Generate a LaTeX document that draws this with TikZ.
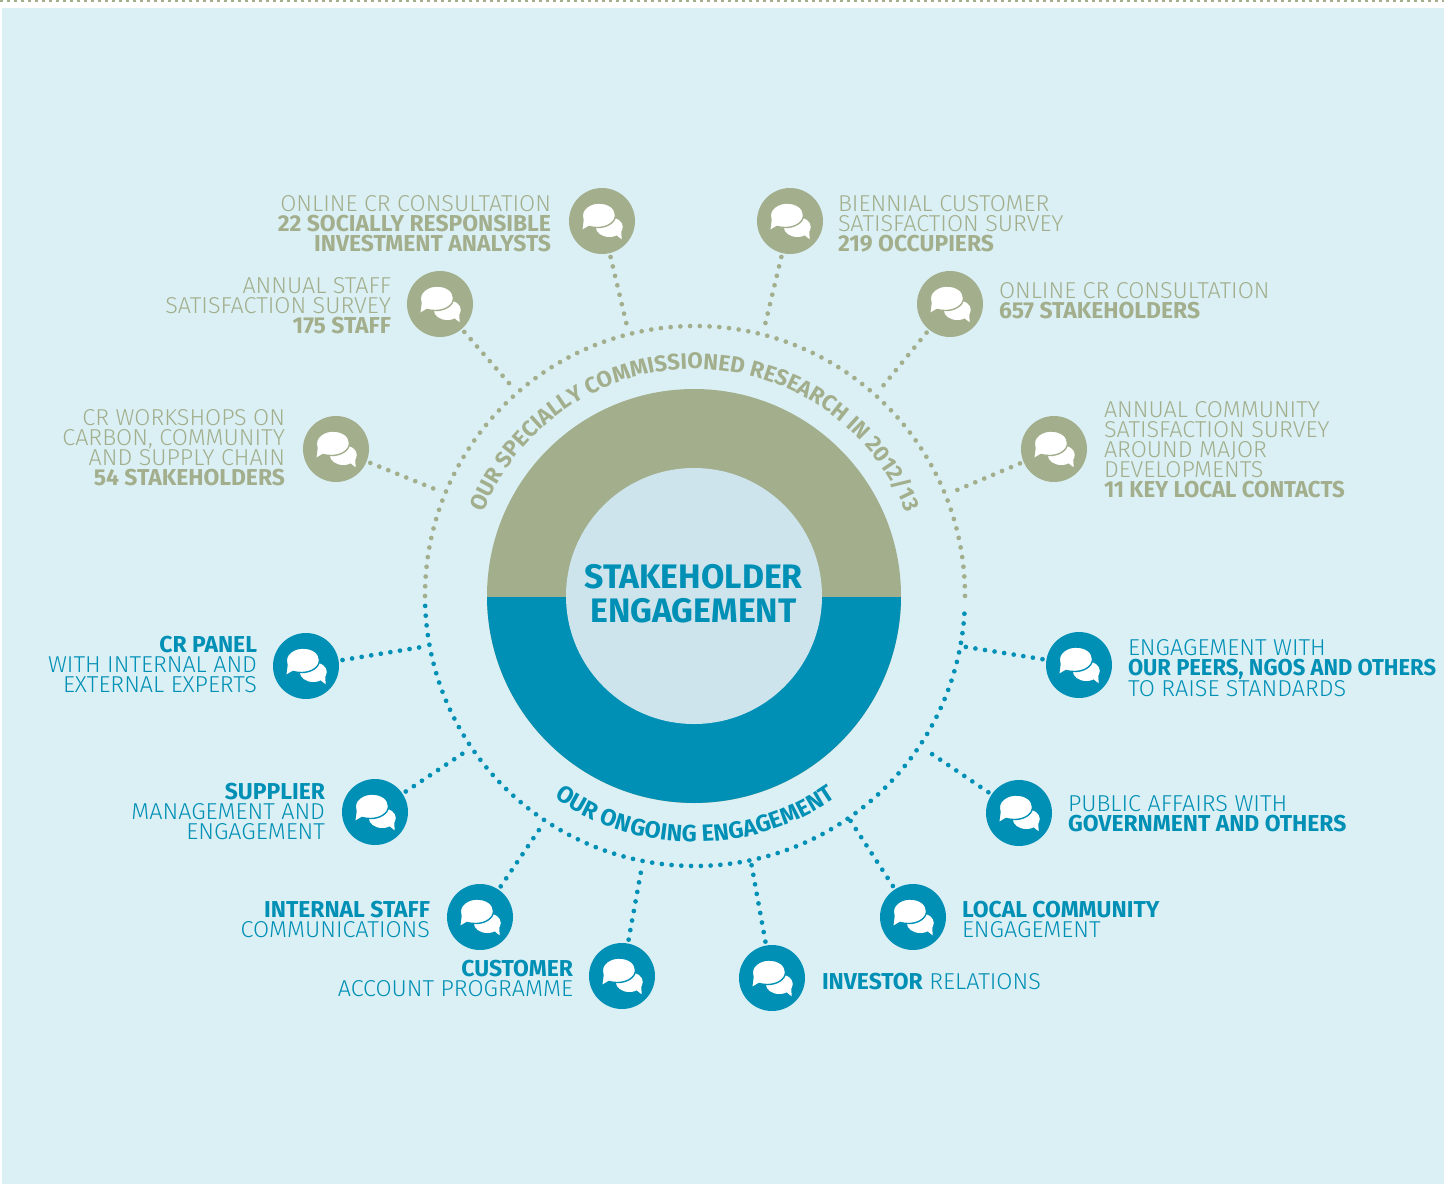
\documentclass[tikz,border=0pt]{standalone}
\usepackage{fontspec}
\setmainfont{Fira Sans}[UprightFont=* Light,BoldFont=* Bold,UprightFeatures={FakeStretch=1.015},BoldFeatures={FakeStretch=0.995}]
\usetikzlibrary{decorations.text}
\definecolor{olive}{HTML}{A2AE8C}
\definecolor{teal}{HTML}{008FB5}
\definecolor{bgc}{HTML}{DBF0F5}
\definecolor{core}{HTML}{CDE4EC}
\tikzset{
 x=1pt,y=-1pt,
 iconb/.style={circle,minimum size=66pt,inner sep=0pt,outer sep=0pt,fill=#1},
 lnk/.style={draw=#1,line width=4.7pt,line cap=round,dash pattern=on 0pt off 9.7pt,shorten <=4pt},
 ringdots/.style 2 args={draw=#1,line width=4.7pt,line cap=round,dash pattern=on 0pt off #2pt},
 lab/.style={inner sep=0pt,outer sep=0pt,font=\fontsize{23}{20}\selectfont,text=#1},
 labr/.style={lab=#1,anchor=north east,align=right},
 labl/.style={lab=#1,anchor=north west,align=left},
 bubble/.pic={
  \fill[white] (7.3,6) ellipse [x radius=13.5,y radius=10];
  \fill[white] (13,13) -- (19.7,18.3) -- (19,7) -- cycle;
  \filldraw[fill=white,draw=#1,line width=1.4pt] (-19,-1) .. controls (-23,-13) and (-10,-18) .. (-3.7,-18) .. controls (8,-18) and (13.5,-12) .. (13.5,-6) .. controls (13.5,2) and (4,6.5) .. (-4,6.5) .. controls (-8,6.5) and (-11,6) .. (-13,5.5) -- (-20.5,10) -- cycle;
 }
}
\newcommand{\icn}[4]{% name, x, y, color
 \node[iconb=#4] (#1) at (#2,#3) {};
 \pic at (#1) {bubble=#4};
}
\begin{document}
\begin{tikzpicture}
\useasboundingbox (0,0) rectangle (1444,1184);
\fill[white] (0,0) rectangle (1444,1184);
\fill[bgc] (2,8) rectangle (1444,1184);
\coordinate (tl) at (0,1); \coordinate (tr) at (1444,1);
\draw[olive,line width=2.5pt,dash pattern=on 2.5pt off 4.5pt] (tl) -- (tr);

% dotted ring and rosette
\begin{scope}[shift={(695,596)},y=1pt]
 \draw[ringdots={olive}{9.75}] (180:270) arc[start angle=180,end angle=0,radius=270];
 \draw[ringdots={teal}{9.77}] (182.1:270) arc[start angle=182.1,end angle=358.3,radius=270];
 \fill[olive] (-1,0) circle[radius=207];
 \fill[teal] (-207.99,-1) arc[start angle=180.3,end angle=359.7,radius=207] -- cycle;
 \fill[core] (-1,0) circle[radius=128];
 \path[decorate,decoration={text along path,text align=center,text color=olive,
   text={|\fontsize{22.5}{23}\selectfont\bfseries|OUR SPECIALLY COMMISSIONED RESEARCH IN 2012/13}}]
   (172:227) arc[start angle=172,end angle=8,radius=227];
 \path[decorate,decoration={text along path,text align=center,text color=teal,
   text={|\fontsize{23.5}{23.5}\selectfont\bfseries|OUR ONGOING ENGAGEMENT}}]
   (215:246) arc[start angle=215,end angle=325,radius=246];
\end{scope}

\node[font=\fontsize{34}{34}\selectfont\bfseries,text=teal,align=center] (title) at (693.5,594) {STAKEHOLDER\\ENGAGEMENT};

% upper ring icons
\icn{a}{602}{221}{olive}
\icn{b}{790}{221}{olive}
\icn{c}{950}{304}{olive}
\icn{d}{1054}{449}{olive}
\icn{e}{336}{449}{olive}
\icn{f}{440}{304}{olive}
% lower ring icons
\icn{g}{306}{666}{teal}
\icn{h}{375}{812}{teal}
\icn{i}{480}{917}{teal}
\icn{j}{622}{976}{teal}
\icn{k}{772}{978}{teal}
\icn{l}{913}{917}{teal}
\icn{m}{1019}{813}{teal}
\icn{n}{1079}{665}{teal}

\coordinate (ra) at (627,326); \coordinate (rb) at (764,329);
\coordinate (rc) at (878,392); \coordinate (rd) at (950,493);
\coordinate (re) at (442,492); \coordinate (rf) at (515,390);
\coordinate (rg) at (428,646); \coordinate (rh) at (468,750);
\coordinate (ri) at (543,824); \coordinate (rj) at (642,866);
\coordinate (rk) at (751,862); \coordinate (rl) at (850,820);
\coordinate (rm) at (926,750); \coordinate (rn) at (960,646);
\foreach \p/\q in {a/ra,b/rb,c/rc,d/rd,e/re,f/rf}{\draw[lnk=olive] (\p) -- (\q);}
\foreach \p/\q in {g/rg,h/rh,i/ri,j/rj,k/rk,l/rl,m/rm,n/rn}{\draw[lnk=teal] (\p) -- (\q);}

% labels
\node[labr=olive] (ta) at (551,195) {ONLINE CR CONSULTATION\\\textbf{22 SOCIALLY RESPONSIBLE}\\\textbf{INVESTMENT ANALYSTS}};
\node[labr=olive] (tf) at (391,277) {ANNUAL STAFF\\SATISFACTION SURVEY\\\textbf{175 STAFF}};
\node[labr=olive] (te) at (285,409) {CR WORKSHOPS ON\\CARBON, COMMUNITY\\AND SUPPLY CHAIN\\\textbf{54 STAKEHOLDERS}};
\node[labr=teal] (tg) at (257,636) {\textbf{CR PANEL}\\WITH INTERNAL AND\\EXTERNAL EXPERTS};
\node[labr=teal] (th) at (325,783) {\textbf{SUPPLIER}\\MANAGEMENT AND\\ENGAGEMENT};
\node[labr=teal] (ti) at (430,901) {\textbf{INTERNAL STAFF}\\COMMUNICATIONS};
\node[labr=teal] (tj) at (573,960) {\textbf{CUSTOMER}\\ACCOUNT PROGRAMME};
\node[labl=olive] (tb) at (838,195) {BIENNIAL CUSTOMER\\SATISFACTION SURVEY\\\textbf{219 OCCUPIERS}};
\node[labl=olive] (tc) at (999,282) {ONLINE CR CONSULTATION\\\textbf{657 STAKEHOLDERS}};
\node[labl=olive] (td) at (1104,401) {ANNUAL COMMUNITY\\SATISFACTION SURVEY\\AROUND MAJOR\\DEVELOPMENTS\\\scalebox{0.97}[1]{\textbf{11 KEY LOCAL CONTACTS}}};
\node[labl=teal] (tn) at (1128,639) {ENGAGEMENT WITH\\\scalebox{0.96}[1]{\textbf{OUR PEERS, NGOS AND OTHERS}}\\TO RAISE STANDARDS};
\node[labl=teal] (tm) at (1068,795) {PUBLIC AFFAIRS WITH\\\textbf{GOVERNMENT AND OTHERS}};
\node[labl=teal] (tl2) at (962,901) {\textbf{LOCAL COMMUNITY}\\ENGAGEMENT};
\node[labl=teal] (tk) at (822,973) {\textbf{INVESTOR} RELATIONS};
\end{tikzpicture}
\end{document}
